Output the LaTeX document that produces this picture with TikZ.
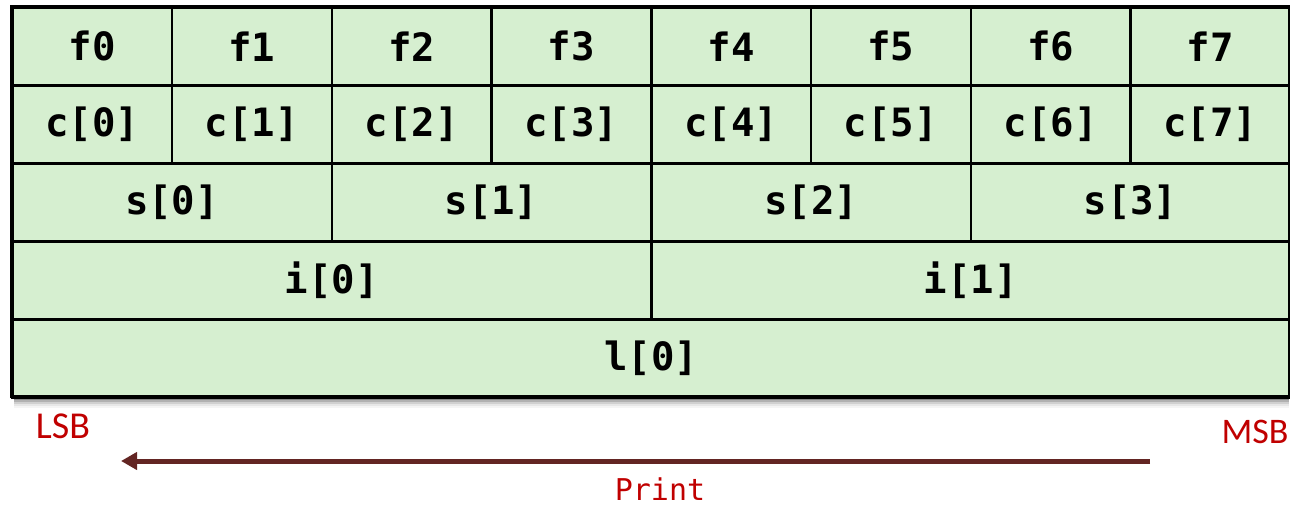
\documentclass[tikz,border=0pt]{standalone}
\usepackage{fontspec}
\newfontfamily\cellfont{DejaVu Sans Mono}
\newfontfamily\labfont{Carlito}
\usetikzlibrary{arrows.meta}
\definecolor{cellgreen}{RGB}{214,239,208}
\definecolor{lsbred}{RGB}{192,0,0}
\definecolor{arrowred}{RGB}{99,37,35}
\begin{document}
\begin{tikzpicture}[x=1pt,y=-1pt,
  cell/.style={draw=black, line width=2.5pt, fill=cellgreen, inner sep=0pt,
    minimum height=78pt, anchor=north west,
    font=\cellfont\bfseries\fontsize{39}{39}\selectfont},
  sidelabel/.style={text=lsbred, inner sep=0pt, font=\labfont\fontsize{38}{38}\selectfont},
  printlabel/.style={text=lsbred, inner sep=0pt, font=\cellfont\fontsize{30}{30}\selectfont}]
\useasboundingbox (0,0) rectangle (1290,506);

% soft shadow under the table
\foreach \k/\o in {2/0.30,4/0.22,6/0.15,8/0.10,10/0.06,12/0.04}
  \fill[black, opacity=\o] (14,396) rectangle (1289,396+\k);

% one row per view of the same 8 bytes
\foreach \i in {0,...,7}
  \node[cell, minimum width=159.75pt] (f\i) at ({11+\i*159.75},6) {f\i};
\foreach \i in {0,...,7}
  \node[cell, minimum width=159.75pt] (c\i) at ({11+\i*159.75},84) {c[\i]};
\foreach \i in {0,...,3}
  \node[cell, minimum width=319.5pt] (s\i) at ({11+\i*319.5},162) {s[\i]};
\foreach \i in {0,1}
  \node[cell, minimum width=639pt] (i\i) at ({11+\i*639},240) {i[\i]};
\node[cell, minimum width=1278pt] (l0) at (11,318) {l[0]};

% outer frame
\draw[line width=3pt] (11,6) rectangle (1289,396);

% byte order labels and print direction
\node[sidelabel] (lsb) at (63,426) {LSB};
\node[sidelabel, font=\labfont\fontsize{36}{36}\selectfont] (msb) at (1255,432) {MSB};
\coordinate (astart) at (1150,461);
\coordinate (aend) at (121,461);
\draw[arrowred, line width=5pt, -{Triangle[length=16pt,width=17pt]}] (astart) -- (aend);
\node[printlabel, anchor=base] (print) at (660,500) {Print};
\end{tikzpicture}
\end{document}
